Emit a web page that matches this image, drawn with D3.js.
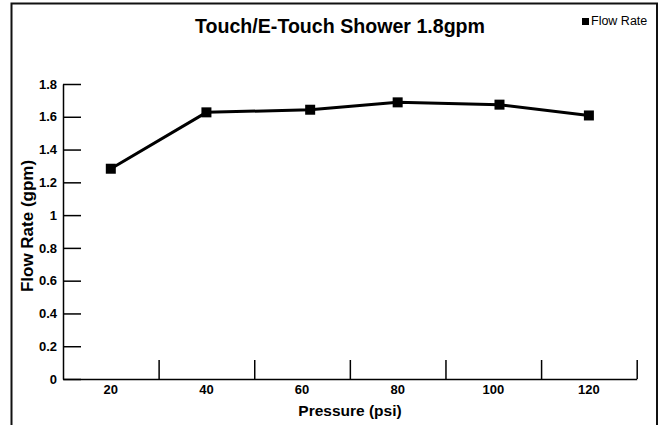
<!DOCTYPE html>
<html>
<head>
<meta charset="utf-8">
<title>Touch/E-Touch Shower 1.8gpm</title>
<style>
  body { margin: 0; background: #fff; }
  text { font-family: "Liberation Sans", Arial, Helvetica, sans-serif; fill: #000; }
</style>
</head>
<body>
<script src="https://cdn.jsdelivr.net/npm/d3@7/dist/d3.min.js"></script>
<script>

var width  = 662;
var height = 425;

// data
var pressure = [20, 40, 61.7, 80, 101.3, 120];      // psi, as measured
var flowRate = [1.283, 1.627, 1.643, 1.688, 1.674, 1.608];  // gpm
var xLabels  = [20, 40, 60, 80, 100, 120];
var xTicks   = [30, 50, 70, 90, 110, 130];
var yTicks   = [0, 0.2, 0.4, 0.6, 0.8, 1, 1.2, 1.4, 1.6, 1.8];

var svg = d3.select("body")
            .append("svg")
            .attr("width", width)
            .attr("height", height);

// outer frame (bottom edge is cut off in the original)
svg.append("path")
   .attr("d", "M11.5,430 V3.5 H657 V430")
   .attr("fill", "none")
   .attr("stroke", "#111")
   .attr("stroke-width", 2);

var x = d3.scaleLinear().domain([10, 130]).range([63, 636.7]);
var y = d3.scaleLinear().domain([0, 1.8]).range([379, 84]);

// y axis: ticks pointing inward
var yAxis = svg.append("g")
   .attr("transform", "translate(63,0)")
   .call(d3.axisRight(y)
           .tickValues(yTicks)
           .tickSize(18)
           .tickSizeOuter(0)
           .tickFormat(function(d){ return d3.format("")(+d.toFixed(1)); }));
yAxis.attr("font-size", null).attr("font-family", null);
yAxis.select(".domain").attr("stroke", "#000").attr("stroke-width", 1.5);
yAxis.selectAll(".tick line").attr("stroke", "#000").attr("stroke-width", 1.5);
yAxis.selectAll(".tick text")
     .attr("x", -6)
     .attr("text-anchor", "end")
     .style("font-size", "13px")
     .style("font-weight", "bold");

// x axis: boundary ticks pointing up
var xAxis = svg.append("g")
   .attr("transform", "translate(0,379)")
   .call(d3.axisTop(x).tickValues(xTicks).tickSize(19).tickSizeOuter(0).tickFormat(""));
xAxis.select(".domain").attr("stroke", "#000").attr("stroke-width", 1.5);
xAxis.selectAll(".tick line").attr("stroke", "#000").attr("stroke-width", 1.5);

svg.append("g")
   .selectAll("text")
   .data(xLabels)
   .enter()
   .append("text")
   .attr("x", function(d){ return x(d); })
   .attr("y", 394)
   .attr("text-anchor", "middle")
   .style("font-size", "13px")
   .style("font-weight", "bold")
   .text(function(d){ return d; });

// line + square markers
var pts = pressure.map(function(p, i){ return [p, flowRate[i]]; });

svg.append("path")
   .datum(pts)
   .attr("fill", "none")
   .attr("stroke", "#000")
   .attr("stroke-width", 3)
   .attr("stroke-linejoin", "round")
   .attr("d", d3.line().x(function(d){ return x(d[0]); }).y(function(d){ return y(d[1]); }));

svg.append("g")
   .selectAll("rect")
   .data(pts)
   .enter()
   .append("rect")
   .attr("x", function(d){ return x(d[0]) - 5; })
   .attr("y", function(d){ return y(d[1]) - 5; })
   .attr("width", 10)
   .attr("height", 10)
   .attr("fill", "#000");

// titles
svg.append("text")
   .attr("x", 340)
   .attr("y", 33)
   .attr("text-anchor", "middle")
   .attr("textLength", 290)
   .attr("lengthAdjust", "spacingAndGlyphs")
   .style("font-size", "20px")
   .style("font-weight", "bold")
   .text("Touch/E-Touch Shower 1.8gpm");

svg.append("text")
   .attr("x", 350)
   .attr("y", 416)
   .attr("text-anchor", "middle")
   .style("font-size", "15.5px")
   .style("font-weight", "bold")
   .text("Pressure (psi)");

svg.append("text")
   .attr("transform", "translate(33,226) rotate(-90)")
   .attr("text-anchor", "middle")
   .style("font-size", "17px")
   .style("font-weight", "bold")
   .text("Flow Rate (gpm)");

// legend
svg.append("rect")
   .attr("x", 582).attr("y", 18)
   .attr("width", 7).attr("height", 7)
   .attr("fill", "#000");
svg.append("text")
   .attr("x", 591)
   .attr("y", 25)
   .style("font-size", "12.5px")
   .text("Flow Rate");

</script>
</body>
</html>
